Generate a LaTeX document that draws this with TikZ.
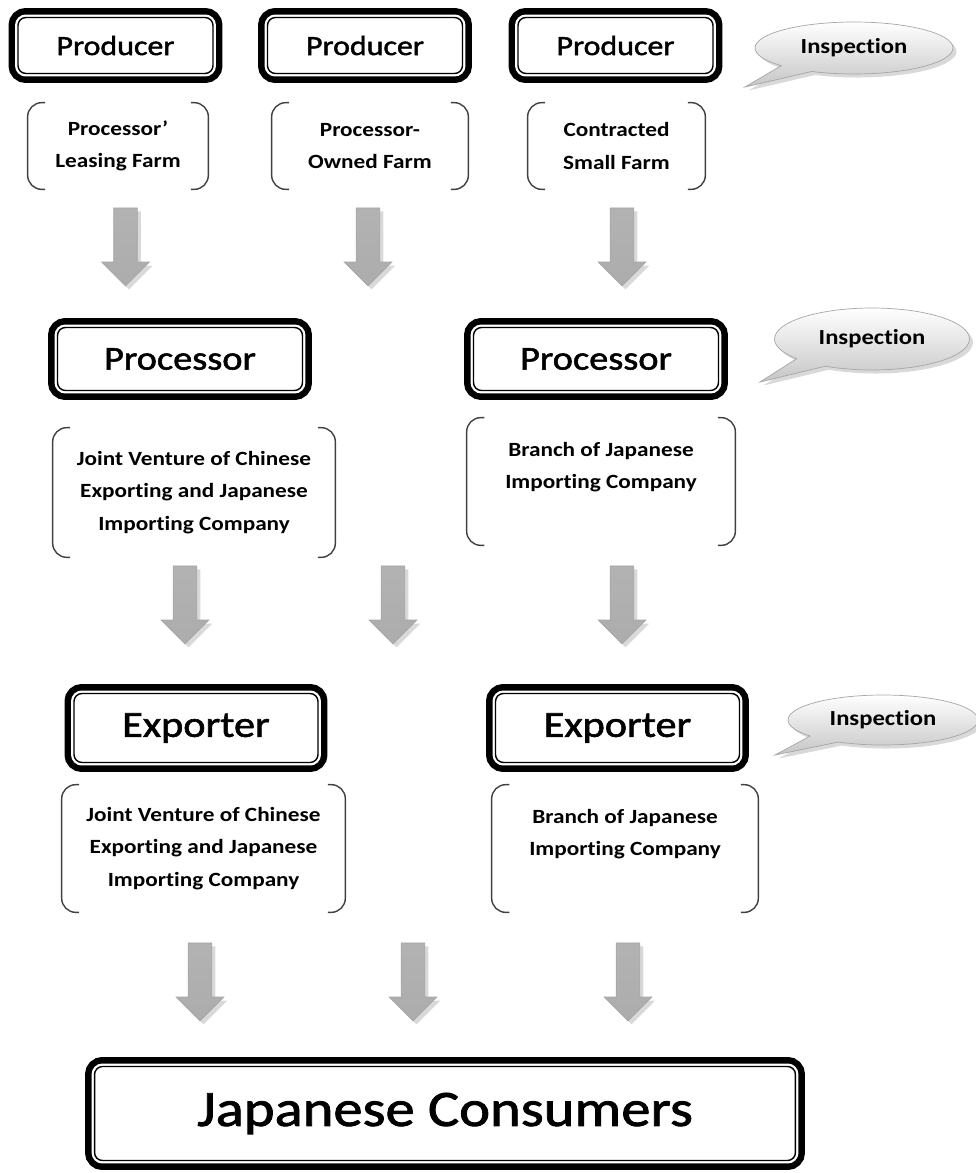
\documentclass[tikz,border=0pt]{standalone}
\usepackage{fontspec}
\setmainfont{Carlito}[FakeStretch=1.15, Ligatures=NoCommon]
\newfontfamily\headfont{Carlito}[FakeStretch=1.15, FakeBold=1.6, Ligatures=NoCommon]
\usetikzlibrary{shapes.arrows, shapes.callouts, shadows}
\tikzset{
    stage/.style={rounded corners=4.5pt, fill=white, draw=black, line width=0.8pt, inner sep=0pt,
        preaction={draw=black, line width=10.8pt},
        preaction={draw=white, line width=3.4pt}},
    farm/.style={align=center, inner sep=0pt, font=\bfseries\fontsize{11.5}{18.5}\selectfont},
    bracket/.style={draw=gray!50!black, line width=0.8pt, rounded corners=8pt},
    flow/.style={single arrow, shape border rotate=270, minimum width=0.94cm, minimum height=1.56cm,
        single arrow head extend=0.24cm, inner sep=0.23cm, draw=gray!70, top color=gray!60,
        middle color=gray!15, bottom color=gray!65,
        drop shadow={shadow xshift=2pt, shadow yshift=-2pt, opacity=0.3}},
    inspect/.style={ellipse callout, draw=gray!70, top color=white, bottom color=gray!45, inner sep=0pt,
        callout pointer arc=22, font=\bfseries\fontsize{12.2}{14}\selectfont,
        drop shadow={shadow xshift=2pt, shadow yshift=-2pt, opacity=0.3}}
}

\begin{document}
\begin{tikzpicture}[x=0.02cm, y=-0.02cm]
    \useasboundingbox (0,0) rectangle (975,1173);

    \node[stage, minimum width=3.9cm, minimum height=1.12cm, font=\headfont\fontsize{15.8}{19}\selectfont] (prodA) at (115.5,45.5) {Producer};
    \node[stage, minimum width=3.9cm, minimum height=1.12cm, font=\headfont\fontsize{15.8}{19}\selectfont] (prodB) at (365,45.5) {Producer};
    \node[stage, minimum width=3.9cm, minimum height=1.12cm, font=\headfont\fontsize{15.8}{19}\selectfont] (prodC) at (615.5,45.5) {Producer};
    \node[inspect, minimum width=3.96cm, minimum height=1.04cm, callout absolute pointer={(745,87)}] (inspA) at (854,48) {Inspection};

    \node[farm, minimum width=3.6cm, minimum height=1.72cm] (farmA) at (118,146) {Processor’\\Leasing Farm};
    \node[farm, minimum width=3.92cm, minimum height=1.72cm] (farmB) at (370,146) {Processor-\\Owned Farm};
    \node[farm, minimum width=3.54cm, minimum height=1.72cm] (farmC) at (616.5,146) {Contracted\\Small Farm};

    \node[stage, minimum width=4.9cm, minimum height=1.26cm, font=\headfont\fontsize{19}{23}\selectfont] (procA) at (180,359) {Processor};
    \node[stage, minimum width=4.9cm, minimum height=1.26cm, font=\headfont\fontsize{19}{23}\selectfont] (procB) at (596,359) {Processor};
    \node[inspect, minimum width=3.9cm, minimum height=1.24cm, callout absolute pointer={(760,382)}] (inspB) at (872,339) {Inspection};

    \node[farm, minimum width=5.64cm, minimum height=2.58cm] (jvA) at (194,492.5) {Joint Venture of Chinese\\Exporting and Japanese\\Importing Company};
    \node[farm, minimum width=5.36cm, minimum height=2.54cm] (brB) at (601,481.5) {Branch of Japanese\\Importing Company\\\mbox{}};

    \node[stage, minimum width=4.88cm, minimum height=1.38cm, font=\headfont\fontsize{20.9}{25}\selectfont] (expA) at (196,728) {Exporter};
    \node[stage, minimum width=4.88cm, minimum height=1.38cm, font=\headfont\fontsize{20.9}{25}\selectfont] (expB) at (617.5,728) {Exporter};
    \node[inspect, minimum width=3.8cm, minimum height=1.0cm, callout absolute pointer={(775,755)}] (inspC) at (883,720) {Inspection};

    \node[farm, minimum width=5.66cm, minimum height=2.54cm] (jvB) at (203.5,848.5) {Joint Venture of Chinese\\Exporting and Japanese\\Importing Company};
    \node[farm, minimum width=5.32cm, minimum height=2.54cm] (brC) at (625,848.5) {Branch of Japanese\\Importing Company\\\mbox{}};

    \node[stage, minimum width=14.02cm, minimum height=1.88cm, font=\headfont\fontsize{29}{34}\selectfont] (cons) at (445,1113.5) {Japanese Consumers};

    \foreach \n in {farmA, farmB, farmC, jvA, brB, jvB, brC} {
        \draw[bracket] ([xshift=10pt]\n.north west) -- (\n.north west) -- (\n.south west) -- ([xshift=10pt]\n.south west);
        \draw[bracket] ([xshift=-10pt]\n.north east) -- (\n.north east) -- (\n.south east) -- ([xshift=-10pt]\n.south east);
    }

    \foreach \ax/\ay [count=\i] in {125.5/241, 368/241, 622/241, 185/599, 393/599, 622/599, 200/976, 413/976, 628/976}
        \node[flow] (arrow\i) at (\ax,\ay) {};
\end{tikzpicture}
\end{document}
